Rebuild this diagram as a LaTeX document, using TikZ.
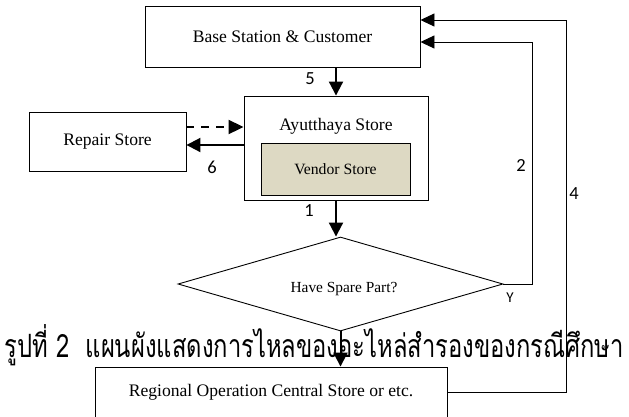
\documentclass[tikz,border=0pt]{standalone}
\usepackage{fontspec}
\setmainfont{Liberation Serif}
\newfontfamily\labfont{Carlito}
\newfontfamily\thaifont[Script=Thai]{Loma}
\usetikzlibrary{arrows.meta,shapes.geometric}
\definecolor{vendorfill}{HTML}{DDD9C3}
\tikzset{
  box/.style={draw, line width=0.9pt, inner sep=0pt, font=\fontsize{17.6}{20}\selectfont},
  flow/.style={line width=2pt, -{Triangle[length=14pt,width=14pt]}},
  thinflow/.style={line width=0.9pt, -{Triangle[length=14pt,width=13pt]}},
  numlabel/.style={font=\labfont\fontsize{18.5}{20}\selectfont, inner sep=0pt},
}
\begin{document}
\begin{tikzpicture}[x=1pt, y=-1pt]
\useasboundingbox (0,0) rectangle (629,416);
\clip (0,0) rectangle (629,416);

% boxes
\node[box, minimum width=275pt, minimum height=61pt] (base) at (282.5,36.5) {Base Station \& Customer};
\node[box, minimum width=184pt, minimum height=104pt] (ayut) at (336,148) {};
\node[font=\fontsize{17.6}{20}\selectfont, inner sep=0pt] (ayuttext) at (336,126) {Ayutthaya Store};
\node[box, fill=vendorfill, minimum width=149pt, minimum height=52pt, font=\fontsize{15.7}{18}\selectfont] (vendor) at (335.5,169) {Vendor Store};
\node[box, minimum width=157pt, minimum height=59pt] (repair) at (107.5,141.5) {Repair Store};
\node[draw, line width=0.9pt, shape=diamond, minimum width=325pt, minimum height=94pt, inner sep=0pt] (dia) at (340.5,284) {};
\node[font=\fontsize{15.4}{18}\selectfont, inner sep=0pt] (diatext) at (344,289) {Have Spare Part?};
\node[box, minimum width=352pt, minimum height=50pt] (reg) at (271,392) {Regional Operation Central Store or etc.};

% caption
\node[anchor=base, inner sep=0pt] (cap) at (314.5,357)
  {\scalebox{1}[1.35]{\resizebox{619pt}{!}{\thaifont รูปที่ 2 \ แผนผังแสดงการไหลของอะไหล่สำรองของกรณีศึกษา}}};

% corner points of the return lines
\coordinate (c2) at (532,42);
\coordinate (c4) at (566,20);

% connectors
\draw[flow] (base.south -| ayut.north) -- (ayut.north);
\draw[line width=2pt, dash pattern=on 8pt off 7pt, -{Triangle[length=15pt,width=14pt]}]
  ([yshift=14.5pt]repair.east) -- ([yshift=14.5pt]repair.east -| ayut.west);
\draw[flow] ([yshift=-3.5pt]repair.east -| ayut.west) -- ([yshift=-3.5pt]repair.east);
\draw[flow] (ayut.south) -- (ayut.south |- dia.north);
\draw[flow] (dia.south) -- (dia.south |- reg.north);
\draw[thinflow] (dia.east) -| (c2) -- (c2 -| base.east);
\draw[thinflow] (reg.east) -| (c4) -- (c4 -| base.east);

% labels
\node[numlabel] (l5) at (310,79) {5};
\node[numlabel] (l6) at (212,167) {6};
\node[numlabel] (l1) at (309,211) {1};
\node[numlabel] (l2) at (521,165) {2};
\node[numlabel] (l4) at (574,194) {4};
\node[numlabel, font=\labfont\fontsize{15}{16}\selectfont] (ly) at (510,298) {Y};
\end{tikzpicture}
\end{document}
